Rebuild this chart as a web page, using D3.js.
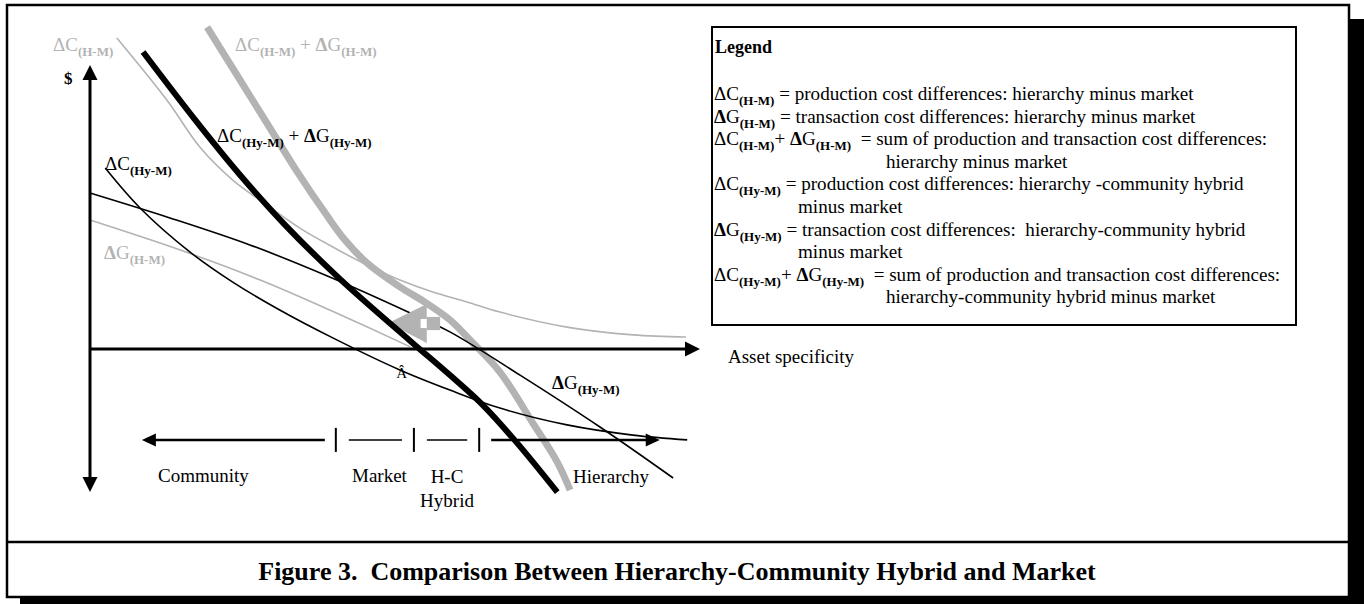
<!DOCTYPE html>
<html>
<head>
<meta charset="utf-8">
<title>Figure 3. Comparison Between Hierarchy-Community Hybrid and Market</title>
<style>
  body { margin: 0; background: #fff; }
  text { font-family: "Liberation Serif", "Times New Roman", serif; }
</style>
</head>
<body>
<script src="https://d3js.org/d3.v7.min.js"></script>
<script>

// curves: [asset specificity, $ difference]
// x runs 0..100 along the horizontal axis, y = 0 on the axis
var dC_HM = [[4.4,103.7],[12.6,83],[18,67.3],[23.4,56.3],[29,48],[34.4,40.3],[39.8,34],
             [45.4,28],[50.8,23],[56.2,19],[61.8,15.7],[67.2,12.3],[78.2,7.3],[89,4.7],[97.7,4]];
var dG_HM = [[0,43],[14.8,33],[27.9,23],[39.3,13],[52.5,0.7]];
var sum_HM = [[19.2,107.3],[24.1,91.3],[29,75.3],[33.9,59.3],[38.9,44.3],[41.8,36.3],[45.4,28.7],
              [50.8,20.7],[54.6,16],[59,9.7],[62.3,3],[67.2,-7.7],[72.6,-24.7],[76.6,-37.7],[78.7,-47]];
var dC_HyM = [[2.5,60.3],[8.2,47],[16.4,32.3],[23.4,22.3],[31.1,13],[39.8,3.7],[50.8,-7],
              [59,-13.7],[67.2,-19.7],[78.2,-25.3],[89,-28.7],[97.9,-30.3]];
var dG_HyM = [[0,52],[13.1,43.7],[26.2,34.7],[39.3,24],[52.5,12],[59,5.7],[70.5,-8.7],[83.6,-26],[95.6,-43]];
var sum_HyM = [[8.7,99],[17.5,75.7],[24.6,58],[32,41.3],[41,23.3],[52.5,2.7],[59,-8.7],
               [64.4,-18.7],[70,-31.3],[76.6,-47.7]];

// governance ranges along asset specificity (boundaries between the ranges)
var regionNames = ["Community", "Market", "H-C", "Hierarchy"];
var regionBounds = [40.3, 53.1, 63.8];
var Ahat = 51.1;

var titleText = "Figure 3.  Comparison Between Hierarchy-Community Hybrid and Market";

// legend rows: [parts, indent of continuation]
var legendRows = [
    [[["ΔC"],["(H-M)","sub"],[" = production cost differences: hierarchy minus market"]]],
    [[["Δ","b"],["G"],["(H-M)","sub"],[" = transaction cost differences: hierarchy minus market"]]],
    [[["ΔC"],["(H-M)","sub"],["+ "],["Δ","b"],["G"],["(H-M)","sub"],["  = sum of production and transaction cost differences:"]]],
    [[["hierarchy minus market"]], 172],
    [[["ΔC"],["(Hy-M)","sub"],[" = production cost differences: hierarchy -community hybrid"]]],
    [[["minus market"]], 84],
    [[["Δ","b"],["G"],["(Hy-M)","sub"],[" = transaction cost differences:  hierarchy-community hybrid"]]],
    [[["minus market"]], 84],
    [[["ΔC"],["(Hy-M)","sub"],["+ "],["Δ","b"],["G"],["(Hy-M)","sub"],["  = sum of production and transaction cost differences:"]]],
    [[["hierarchy-community hybrid minus market"]], 172]
];

var grey = "#b3b3b3";
var W = 1364, H = 604;

var svg = d3.select("body").append("svg")
    .attr("width", W)
    .attr("height", H);

var x = d3.scaleLinear().domain([0, 100]).range([90, 700]);
var y = d3.scaleLinear().domain([0, 100]).range([349, 49]);

var line = d3.line()
    .x(function(d) { return x(d[0]); })
    .y(function(d) { return y(d[1]); })
    .curve(d3.curveCatmullRom.alpha(0.5));

// frame with drop shadow
svg.append("rect").attr("x", 1349).attr("y", 19).attr("width", 15).attr("height", 585).attr("fill", "#000");
svg.append("rect").attr("x", 20).attr("y", 597).attr("width", 1344).attr("height", 7).attr("fill", "#000");
svg.append("rect").attr("x", 7).attr("y", 5).attr("width", 1342).attr("height", 592)
    .attr("fill", "#fff").attr("stroke", "#000").attr("stroke-width", 2.5);
svg.append("line").attr("x1", 7).attr("x2", 1349).attr("y1", 542).attr("y2", 542)
    .attr("stroke", "#000").attr("stroke-width", 2.5);

svg.append("text")
    .attr("x", 677).attr("y", 580)
    .attr("text-anchor", "middle")
    .style("font-size", "26px").style("font-weight", "bold").style("white-space", "pre")
    .text(titleText);

function drawCurve(data, color, width) {
    svg.append("path")
        .datum(data)
        .attr("d", line)
        .attr("fill", "none")
        .attr("stroke", color)
        .attr("stroke-width", width)
        .attr("stroke-linejoin", "round");
}

function richText(px, py, parts, fill, size) {
    var t = svg.append("text").attr("x", px).attr("y", py)
        .attr("fill", fill).style("font-size", size + "px").style("white-space", "pre");
    var shift = 0;
    parts.forEach(function(p) {
        var s = t.append("tspan").text(p[0]);
        var want = p[1] === "sub" ? Math.round(size * 0.28) : 0;
        s.attr("dy", want - shift);
        shift = want;
        if (p[1] === "sub") s.style("font-size", Math.round(size * 0.7) + "px").style("font-weight", "bold");
        if (p[1] === "b") s.style("font-weight", "bold");
    });
    return t;
}

function arrowHead(tx, ty, dx, dy, len, half, color) {
    // tip at (tx,ty), pointing in direction (dx,dy)
    var bx = tx - dx * len, by = ty - dy * len;
    var pts = [[tx, ty], [bx - dy * half, by + dx * half], [bx + dy * half, by - dx * half]];
    svg.append("polygon").attr("points", pts.join(" ")).attr("fill", color);
}

// grey (hierarchy) curves
drawCurve(dC_HM, grey, 1.6);
drawCurve(dG_HM, grey, 1.6);
drawCurve(sum_HM, grey, 7);

// axes
svg.append("line").attr("x1", x(0)).attr("x2", x(0)).attr("y1", y(90)).attr("y2", y(-43))
    .attr("stroke", "#000").attr("stroke-width", 3);
arrowHead(x(0), y(94.7), 0, -1, 15, 7.5, "#000");
arrowHead(x(0), y(-47.7), 0, 1, 15, 7.5, "#000");
svg.append("line").attr("x1", x(0)).attr("x2", x(98)).attr("y1", y(0)).attr("y2", y(0))
    .attr("stroke", "#000").attr("stroke-width", 3);
arrowHead(x(100), y(0), 1, 0, 15, 7.5, "#000");

// governance range arrow below the axis
var yr = y(-30.3);
svg.append("line").attr("x1", x(10)).attr("x2", x(regionBounds[0]) - 11).attr("y1", yr).attr("y2", yr)
    .attr("stroke", "#000").attr("stroke-width", 2.5);
arrowHead(x(8.5), yr, -1, 0, 14, 6.5, "#000");
regionBounds.forEach(function(b) {
    svg.append("line").attr("x1", x(b)).attr("x2", x(b)).attr("y1", yr - 12).attr("y2", yr + 12)
        .attr("stroke", "#000").attr("stroke-width", 2);
});
for (var i = 0; i < regionBounds.length - 1; i++) {
    svg.append("line").attr("x1", x(regionBounds[i]) + 13).attr("x2", x(regionBounds[i + 1]) - 12)
        .attr("y1", yr).attr("y2", yr).attr("stroke", "#000").attr("stroke-width", 1.5);
}
svg.append("line").attr("x1", x(regionBounds[2]) + 12).attr("x2", x(92)).attr("y1", yr).attr("y2", yr)
    .attr("stroke", "#000").attr("stroke-width", 2.5);
arrowHead(x(93.4), yr, 1, 0, 14, 6.5, "#000");

// black (hybrid) thin curves
drawCurve(dC_HyM, "#000", 1.6);
drawCurve(dG_HyM, "#000", 1.6);

// grey block arrow (shift of the crossover point)
svg.append("polygon")
    .attr("points", [[x(48.9), y(8.7)], [x(55.2), y(15)], [x(55.2), y(2)]].join(" "))
    .attr("fill", grey);
svg.append("rect").attr("x", x(55.2)).attr("y", y(10.7)).attr("width", x(57.4) - x(55.2)).attr("height", y(6.3) - y(10.7))
    .attr("fill", grey);
svg.append("rect").attr("x", x(54.2)).attr("y", y(10)).attr("width", x(55.2) - x(54.2)).attr("height", y(7) - y(10))
    .attr("fill", "#fff");

drawCurve(sum_HyM, "#000", 6);

// curve labels
richText(53, 51, [["ΔC"], ["(H-M)", "sub"]], grey, 19);
richText(235, 51, [["ΔC"], ["(H-M)", "sub"], [" + "], ["Δ", "b"], ["G"], ["(H-M)", "sub"]], grey, 19);
richText(217, 142, [["ΔC"], ["(Hy-M)", "sub"], [" + "], ["Δ", "b"], ["G"], ["(Hy-M)", "sub"]], "#000", 19);
richText(105, 170, [["ΔC"], ["(Hy-M)", "sub"]], "#000", 19);
richText(104, 259, [["Δ", "b"], ["G"], ["(H-M)", "sub"]], grey, 19);
richText(552, 389, [["Δ", "b"], ["G"], ["(Hy-M)", "sub"]], "#000", 19);

svg.append("text").attr("x", 64).attr("y", 84).style("font-size", "17px").style("font-weight", "bold").text("$");
svg.append("text").attr("x", x(Ahat)).attr("y", 378).attr("text-anchor", "middle").style("font-size", "15px").text("Â");
svg.append("text").attr("x", 728).attr("y", 363).style("font-size", "19px").text("Asset specificity");

// range labels
svg.append("text").attr("x", 158).attr("y", 482).style("font-size", "19px").text(regionNames[0]);
svg.append("text").attr("x", 352).attr("y", 482).style("font-size", "19px").text(regionNames[1]);
svg.append("text").attr("x", 447).attr("y", 483).attr("text-anchor", "middle").style("font-size", "19px").text(regionNames[2]);
svg.append("text").attr("x", 447).attr("y", 507).attr("text-anchor", "middle").style("font-size", "19px").text("Hybrid");
svg.append("text").attr("x", 573).attr("y", 483).style("font-size", "19px").text(regionNames[3]);

// legend
svg.append("rect").attr("x", 712).attr("y", 27).attr("width", 584).attr("height", 298)
    .attr("fill", "#fff").attr("stroke", "#000").attr("stroke-width", 2);
svg.append("text").attr("x", 715).attr("y", 53).style("font-size", "18px").style("font-weight", "bold").text("Legend");
legendRows.forEach(function(row, i) {
    richText(714 + (row[1] || 0), 100 + i * 22.6, row[0], "#000", 19.1);
});

</script>
</body>
</html>
